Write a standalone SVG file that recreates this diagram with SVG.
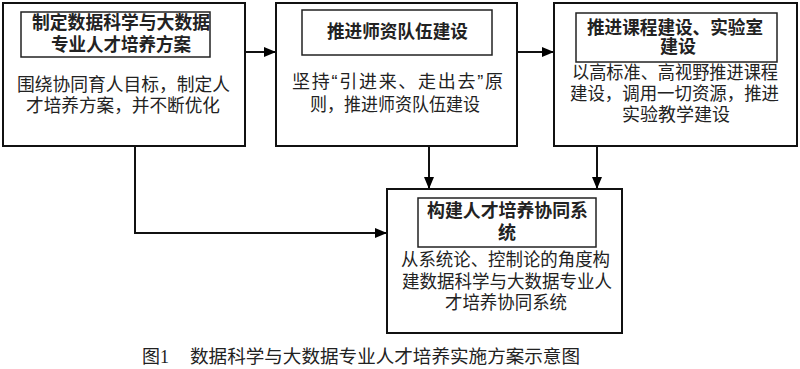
<svg xmlns="http://www.w3.org/2000/svg" width="800" height="369" viewBox="0 0 800 369">
<defs>
<marker id="ah" markerWidth="12" markerHeight="10" refX="12" refY="5" orient="auto" markerUnits="userSpaceOnUse"><path d="M0,0 L12,5 L0,10 Z" fill="#000"/></marker>
</defs>
<style>
.box{fill:#fff;stroke:#111;stroke-width:2}
.tbox{fill:#fff;stroke:#222;stroke-width:1.5}
.t{font-family:"Liberation Sans","Noto Sans CJK SC",sans-serif;font-size:18px;fill:#222;text-anchor:middle}
.b{font-weight:bold}
.cap{font-family:"Liberation Serif","Noto Sans CJK SC",serif;font-size:18px;fill:#222}
.c{fill:none;stroke:#111;stroke-width:2}
</style>
<rect width="800" height="369" fill="#fff"/>
<g id="connectors">
<path class="c" d="M245,52 H276" marker-end="url(#ah)"/>
<path class="c" d="M517,52 H554" marker-end="url(#ah)"/>
<path class="c" d="M135,146 V233 H387" marker-end="url(#ah)"/>
<path class="c" d="M429,146 V189" marker-end="url(#ah)"/>
<path class="c" d="M597,146 V189" marker-end="url(#ah)"/>
</g>
<g id="node1">
<rect class="box" x="3" y="3" width="242" height="143"/>
<rect class="tbox" x="21" y="12" width="189" height="45"/>
<text class="t b" x="121" y="29" textLength="178" lengthAdjust="spacingAndGlyphs">制定数据科学与大数据</text>
<text class="t b" x="121" y="51" textLength="140" lengthAdjust="spacingAndGlyphs">专业人才培养方案</text>
<text class="t" x="123.5" y="91" textLength="213" lengthAdjust="spacingAndGlyphs">围绕协同育人目标，制定人</text>
<text class="t" x="123" y="112" textLength="194" lengthAdjust="spacingAndGlyphs">才培养方案，并不断优化</text>
</g>
<g id="node2">
<rect class="box" x="276" y="3" width="241" height="143"/>
<rect class="tbox" x="302" y="10" width="190" height="45"/>
<text class="t b" x="397.5" y="38" textLength="141" lengthAdjust="spacingAndGlyphs">推进师资队伍建设</text>
<text class="t" x="397.5" y="88" textLength="211" lengthAdjust="spacing">坚持“引进来、走出去”原</text>
<text class="t" x="395" y="111" textLength="170" lengthAdjust="spacingAndGlyphs">则，推进师资队伍建设</text>
</g>
<g id="node3">
<rect class="box" x="554" y="3" width="243" height="143"/>
<rect class="tbox" x="576" y="13" width="201" height="49"/>
<text class="t b" x="675" y="34" textLength="176" lengthAdjust="spacingAndGlyphs">推进课程建设、实验室</text>
<text class="t b" x="678" y="53">建设</text>
<text class="t" x="675" y="79" textLength="206" lengthAdjust="spacingAndGlyphs">以高标准、高视野推进课程</text>
<text class="t" x="674.5" y="100" textLength="209" lengthAdjust="spacingAndGlyphs">建设，调用一切资源，推进</text>
<text class="t" x="676" y="121" textLength="108" lengthAdjust="spacingAndGlyphs">实验教学建设</text>
</g>
<g id="node4">
<rect class="box" x="387" y="189" width="235" height="144"/>
<rect class="tbox" x="418" y="198" width="178" height="49"/>
<text class="t b" x="507.5" y="217" textLength="161" lengthAdjust="spacingAndGlyphs">构建人才培养协同系</text>
<text class="t b" x="507" y="239">统</text>
<text class="t" x="505.5" y="266" textLength="209" lengthAdjust="spacingAndGlyphs">从系统论、控制论的角度构</text>
<text class="t" x="507" y="288" textLength="210" lengthAdjust="spacingAndGlyphs">建数据科学与大数据专业人</text>
<text class="t" x="506" y="309" textLength="122" lengthAdjust="spacingAndGlyphs">才培养协同系统</text>
</g>
<g id="caption">
<text class="cap" x="142" y="363">图1</text>
<text class="cap" x="190" y="363" textLength="390" lengthAdjust="spacingAndGlyphs">数据科学与大数据专业人才培养实施方案示意图</text>
</g>
</svg>
